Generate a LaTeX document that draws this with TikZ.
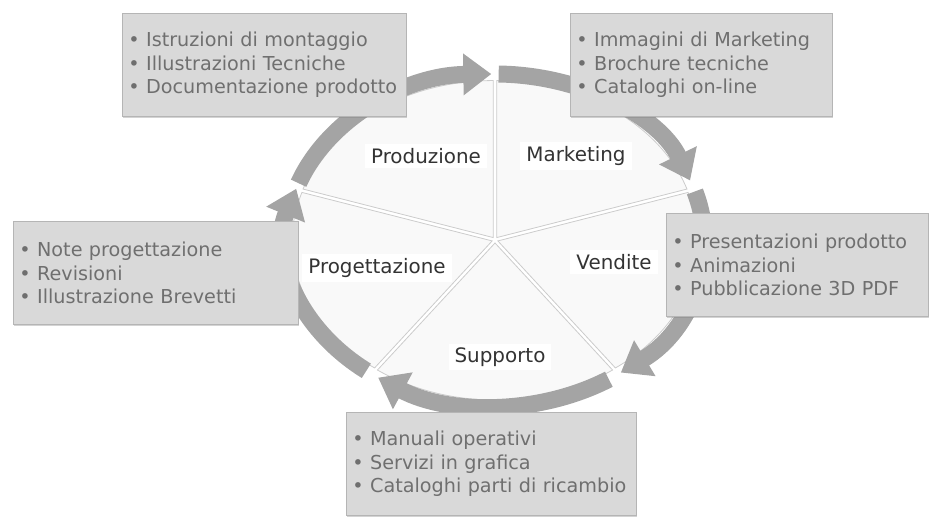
\documentclass[tikz,border=0pt]{standalone}
\usepackage{fontspec}
\setmainfont{DejaVu Sans}
\usetikzlibrary{calc, shadows, arrows.meta}
\definecolor{ringgray}{HTML}{A4A4A4}
\definecolor{boxgray}{HTML}{D9D9D9}
\definecolor{boxline}{HTML}{B5B5B5}
\definecolor{listgray}{HTML}{6F6F6F}
\definecolor{labelgray}{HTML}{333333}
\tikzset{
	slice/.style={fill=gray!5, draw=gray!40, line width=0.8pt},
	ringarrow/.style={draw=ringgray, line width=17pt, -{Triangle[length=28pt,width=40pt]}},
	phase/.style={fill=white, text=labelgray, inner xsep=6pt, inner ysep=4pt, font=\fontsize{19.9}{24}\selectfont},
	infobox/.style={fill=boxgray, draw=boxline, line width=0.8pt, drop shadow={opacity=0.35, shadow xshift=1pt, shadow yshift=-2pt}, anchor=north west, align=left, text=listgray, inner xsep=6pt, minimum height=103pt, font=\fontsize{19.2}{23.5}\selectfont}
}

\begin{document}
\begin{tikzpicture}[x=1pt,y=1pt]
\useasboundingbox (0,0) rectangle (937,523);
\coordinate (C) at (495,283);
% pie slices
\foreach \s/\e in {90/162, 18/90, -54/18, -126/-54, 162/234}{
	\pgfmathsetmacro{\m}{(\s+\e)/2}
	\filldraw[slice] ($(C)+(\m:3)$) -- ++(\s:200 and 157) arc[start angle=\s, end angle=\e, x radius=200, y radius=157] -- cycle;
	}
% ring of arrows
\foreach \a/\b in {160/91, 89/21, 17/-53, -57/-124, -128/-198}{
	\draw[ringarrow] ($(C)+(\a:209 and 166)$) arc[start angle=\a, end angle=\b, x radius=209, y radius=166];
	}
% phases
\node[phase] (produzione) at (426,367){Produzione};
\node[phase] (marketing) at (576,367){Marketing};
\node[phase] (vendite) at (614,261){Vendite};
\node[phase] (progettazione) at (377,255){Progettazione};
\node[phase] (supporto) at (500,166){Supporto};
% lists
\node[infobox, text width=272pt] (produzione-list) at (122,510){\textbullet\ Istruzioni di montaggio\\\textbullet\ Illustrazioni Tecniche\\\textbullet\ Documentazione prodotto};
\node[infobox, text width=250pt] (marketing-list) at (570,510){\textbullet\ Immagini di Marketing\\\textbullet\ Brochure tecniche\\\textbullet\ Cataloghi on-line};
\node[infobox, text width=250pt] (vendite-list) at (666,310){\textbullet\ Presentazioni prodotto\\\textbullet\ Animazioni\\\textbullet\ Pubblicazione 3D PDF};
\node[infobox, text width=273pt] (progettazione-list) at (13,302){\textbullet\ Note progettazione\\\textbullet\ Revisioni\\\textbullet\ Illustrazione Brevetti};
\node[infobox, text width=278pt] (supporto-list) at (346,111){\textbullet\ Manuali operativi\\\textbullet\ Servizi in grafica\\\textbullet\ Cataloghi parti di ricambio};
\end{tikzpicture}
\end{document}
